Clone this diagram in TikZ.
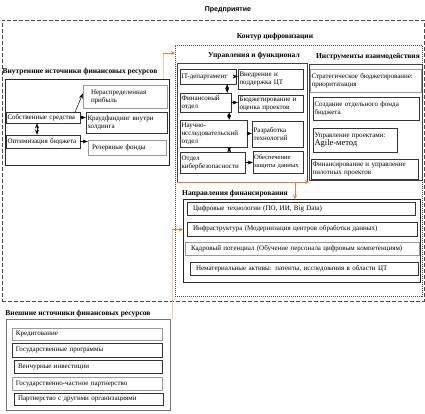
\documentclass[tikz,border=0pt]{standalone}
\usepackage{fontspec}
\setmainfont{Liberation Serif}
\newfontfamily\titlefont{Liberation Sans}
\usetikzlibrary{arrows.meta}

\definecolor{floworange}{RGB}{237,125,49}
\definecolor{flowpale}{RGB}{248,203,173}

\tikzset{
    box/.style      = {draw=black!80, rectangle, inner sep=1.5pt, align=left, font=\fontsize{7}{8}\selectfont},
    greybox/.style  = {box, draw=black!40},
    frame/.style    = {draw=black!75, rectangle, inner sep=0pt, outer sep=0pt, anchor=north west},
    heading/.style  = {inner sep=0pt, font=\fontsize{7.5}{9}\selectfont\bfseries},
    link/.style     = {-Stealth, line width=0.5pt},
    twoway/.style   = {Stealth-Stealth, line width=0.5pt},
    flow/.style     = {draw=flowpale, line width=1pt},
    flowtip/.style  = {-{Stealth[length=4pt, width=4pt]}, draw=floworange, line width=0.8pt},
}

\begin{document}
\begin{tikzpicture}[x=1pt, y=-1pt]
    \useasboundingbox (0,0) rectangle (425,413);

    % frames
    \draw
        (2, 20)   node[frame, draw=black!70, dash pattern=on 4pt off 2pt, minimum width=422pt, minimum height=281pt](outer){}
        (175, 45) node[frame, draw=black!70, dash pattern=on 1pt off 1pt, minimum width=247pt, minimum height=251pt](contour){}
        (177, 63) node[frame, minimum width=130pt, minimum height=119pt](leftgrp){}
        (309, 64) node[frame, minimum width=113pt, minimum height=116pt](rightgrp){}
        (183, 199) node[frame, draw=black!85, minimum width=237pt, minimum height=83pt](dirbox){}
        (5, 79)   node[frame, draw=black!85, minimum width=164pt, minimum height=86pt](intbox){}
        (6, 319)  node[frame, draw=black!55, minimum width=164pt, minimum height=91pt](extbox){}
    ;

    % headings
    \draw
        (228, 10)  node[heading, font=\titlefont\fontsize{7}{9}\selectfont\bfseries](enterprise){Предприятие}
        (275, 37)  node[heading](contourtitle){Контур цифровизации}
        (254, 56)  node[heading](mgmttitle){Управления и функционал}
        (368, 57)  node[heading](tooltitle){Инструменты взаимодействия}
        (235, 194) node[heading](dirtitle){Направления финансирования}
        (80, 72)   node[heading](inttitle){Внутренние источники финансовых ресурсов}
        (78, 314)  node[heading](exttitle){Внешние источники финансовых ресурсов}
    ;

    % internal sources
    \draw
        (43, 117.5)  node[box, text width=71pt, minimum height=11pt](own){Собственные средства}
        (43, 141.5)  node[box, text width=71pt, minimum height=13pt](optim){Оптимизация бюджета}
        (125, 96.5)  node[greybox, inner xsep=8pt, text width=68pt, minimum height=23pt](retained){Нераспределенная\\прибыль}
        (126.5, 122.5) node[box, text width=78pt, minimum height=21pt](crowd){Краудфандинг внутри\\холдинга}
        (127, 147.5) node[greybox, inner xsep=4pt, text width=70pt, minimum height=15pt](reserve){Резервные фонды}
    ;
    \draw[link] ([xshift=-5pt]own.north east) -- ([yshift=3pt]retained.west);
    \draw[link] (own.east) -- (own.east -| crowd.west);
    \draw[twoway] ([xshift=-6pt]own.south) -- ([xshift=-6pt]optim.north);
    \draw[link] (optim.east) -- (optim.east -| reserve.west);

    % management and functions
    \draw
        (208, 76.5)   node[box, text width=53pt, minimum height=15pt](itdep){IT-департамент}
        (270.5, 79)   node[box, text width=62pt, minimum height=20pt](impl){Внедрение и\\поддержка ЦТ}
        (205.5, 102.5) node[box, text width=48pt, minimum height=19pt](findep){Финансовый\\отдел}
        (270.5, 103.5) node[box, text width=62pt, minimum height=17pt](budget){Бюджетирование и\\оценка проектов}
        (213.5, 133.5) node[box, text width=64pt, minimum height=27pt](rnd){Научно-\\исследовательский\\отдел}
        (277.5, 134)  node[box, text width=48pt, minimum height=26pt](techdev){Разработка\\технологий}
        (212.5, 162.5) node[box, text width=62pt, minimum height=21pt](cyber){Отдел\\кибербезопасности}
        (278, 162)    node[box, inner xsep=1pt, text width=48pt, minimum height=22pt, font=\fontsize{6.6}{8}\selectfont](dataprot){Обеспечение\\защиты данных}
    ;
    \draw[link] (itdep.east) -- (itdep.east -| impl.west);
    \draw[twoway] ([xshift=-9pt]itdep.south east) -- ([xshift=-9pt]itdep.south east |- findep.north);
    \draw[link] (findep.east) -- (findep.east -| budget.west);
    \draw[twoway] ([xshift=-2pt]findep.south east) -- ([xshift=-2pt]findep.south east |- rnd.north);
    \draw[link] (rnd.east) -- (rnd.east -| techdev.west);
    \draw[twoway] ([xshift=-18pt]rnd.south east) -- ([xshift=-18pt]rnd.south east |- cyber.north);
    \draw[link] (cyber.east) -- (cyber.east -| dataprot.west);

    % interaction tools
    \draw
        (365.5, 80.5) node[greybox, text width=108pt, minimum height=23pt](strat){Стратегическое бюджетирование:\\приоритизация}
        (366, 108.5)  node[box, text width=103pt, minimum height=23pt](fund){Создание отдельного фонда\\бюджета}
        (355, 140)    node[box, text width=81pt, minimum height=24pt](agile){Управление проектами:\\{\fontsize{8.5}{9}\selectfont Agile-метод}}
        (364.5, 169)  node[box, text width=104pt, minimum height=20pt](pilot){Финансирование и управление\\пилотных проектов}
    ;

    % funding directions
    \draw
        (301, 208.5) node[box, inner xsep=6pt, text width=216pt, minimum height=13pt](digital){Цифровые технологии (ПО, ИИ, Big Data)}
        (302, 229)   node[box, inner xsep=6pt, text width=218pt, minimum height=14pt](infra){Инфраструктура (Модернизация центров обработки данных)}
        (302, 248.5) node[greybox, inner xsep=6pt, text width=222pt, minimum height=13pt](staff){Кадровый потенциал (Обучение персонала цифровым компетенциям)}
        (304, 268.5) node[box, inner xsep=6pt, text width=216pt, minimum height=13pt](intang){Нематериальные активы: патенты, исследования в области ЦТ}
    ;

    % external sources
    \draw
        (87, 334)   node[greybox, inner xsep=4pt, text width=142pt, minimum height=12pt](credit){Кредитование}
        (87, 350)   node[box, inner xsep=4pt, text width=142pt, minimum height=14pt](stateprog){Государственные программы}
        (88, 366.5) node[box, inner xsep=4pt, text width=140pt, minimum height=13pt](venture){Венчурные инвестиции}
        (87, 383.5) node[greybox, inner xsep=4pt, text width=142pt, minimum height=13pt](ppp){Государственно-частное партнерство}
        (88.5, 399) node[box, inner xsep=4pt, text width=141pt, minimum height=12pt](partners){Партнерство с другими организациями}
    ;

    % orange flows
    \coordinate (contin) at ([yshift=-8pt]contour.north west);
    \coordinate (intout) at ([xshift=-6pt]intbox.north east);
    \draw[flow] (intout) -- (intout |- contin);
    \draw[flowtip] (intout |- contin) -- (contin);

    \coordinate (dirin) at ([yshift=11pt]dirbox.west);
    \coordinate (extout) at ([xshift=2pt]extbox.north east);
    \draw[flow] (extout) -- (extout |- dirin);
    \draw[flowtip] (extout |- dirin) -- (dirin);

    \draw[flowtip] (leftgrp.south west) -- (leftgrp.south west -| rightgrp.west);
    \draw[flowtip] ([xshift=-12pt]leftgrp.south east) -- ([xshift=-12pt]leftgrp.south east |- dirbox.north);

\end{tikzpicture}
\end{document}
